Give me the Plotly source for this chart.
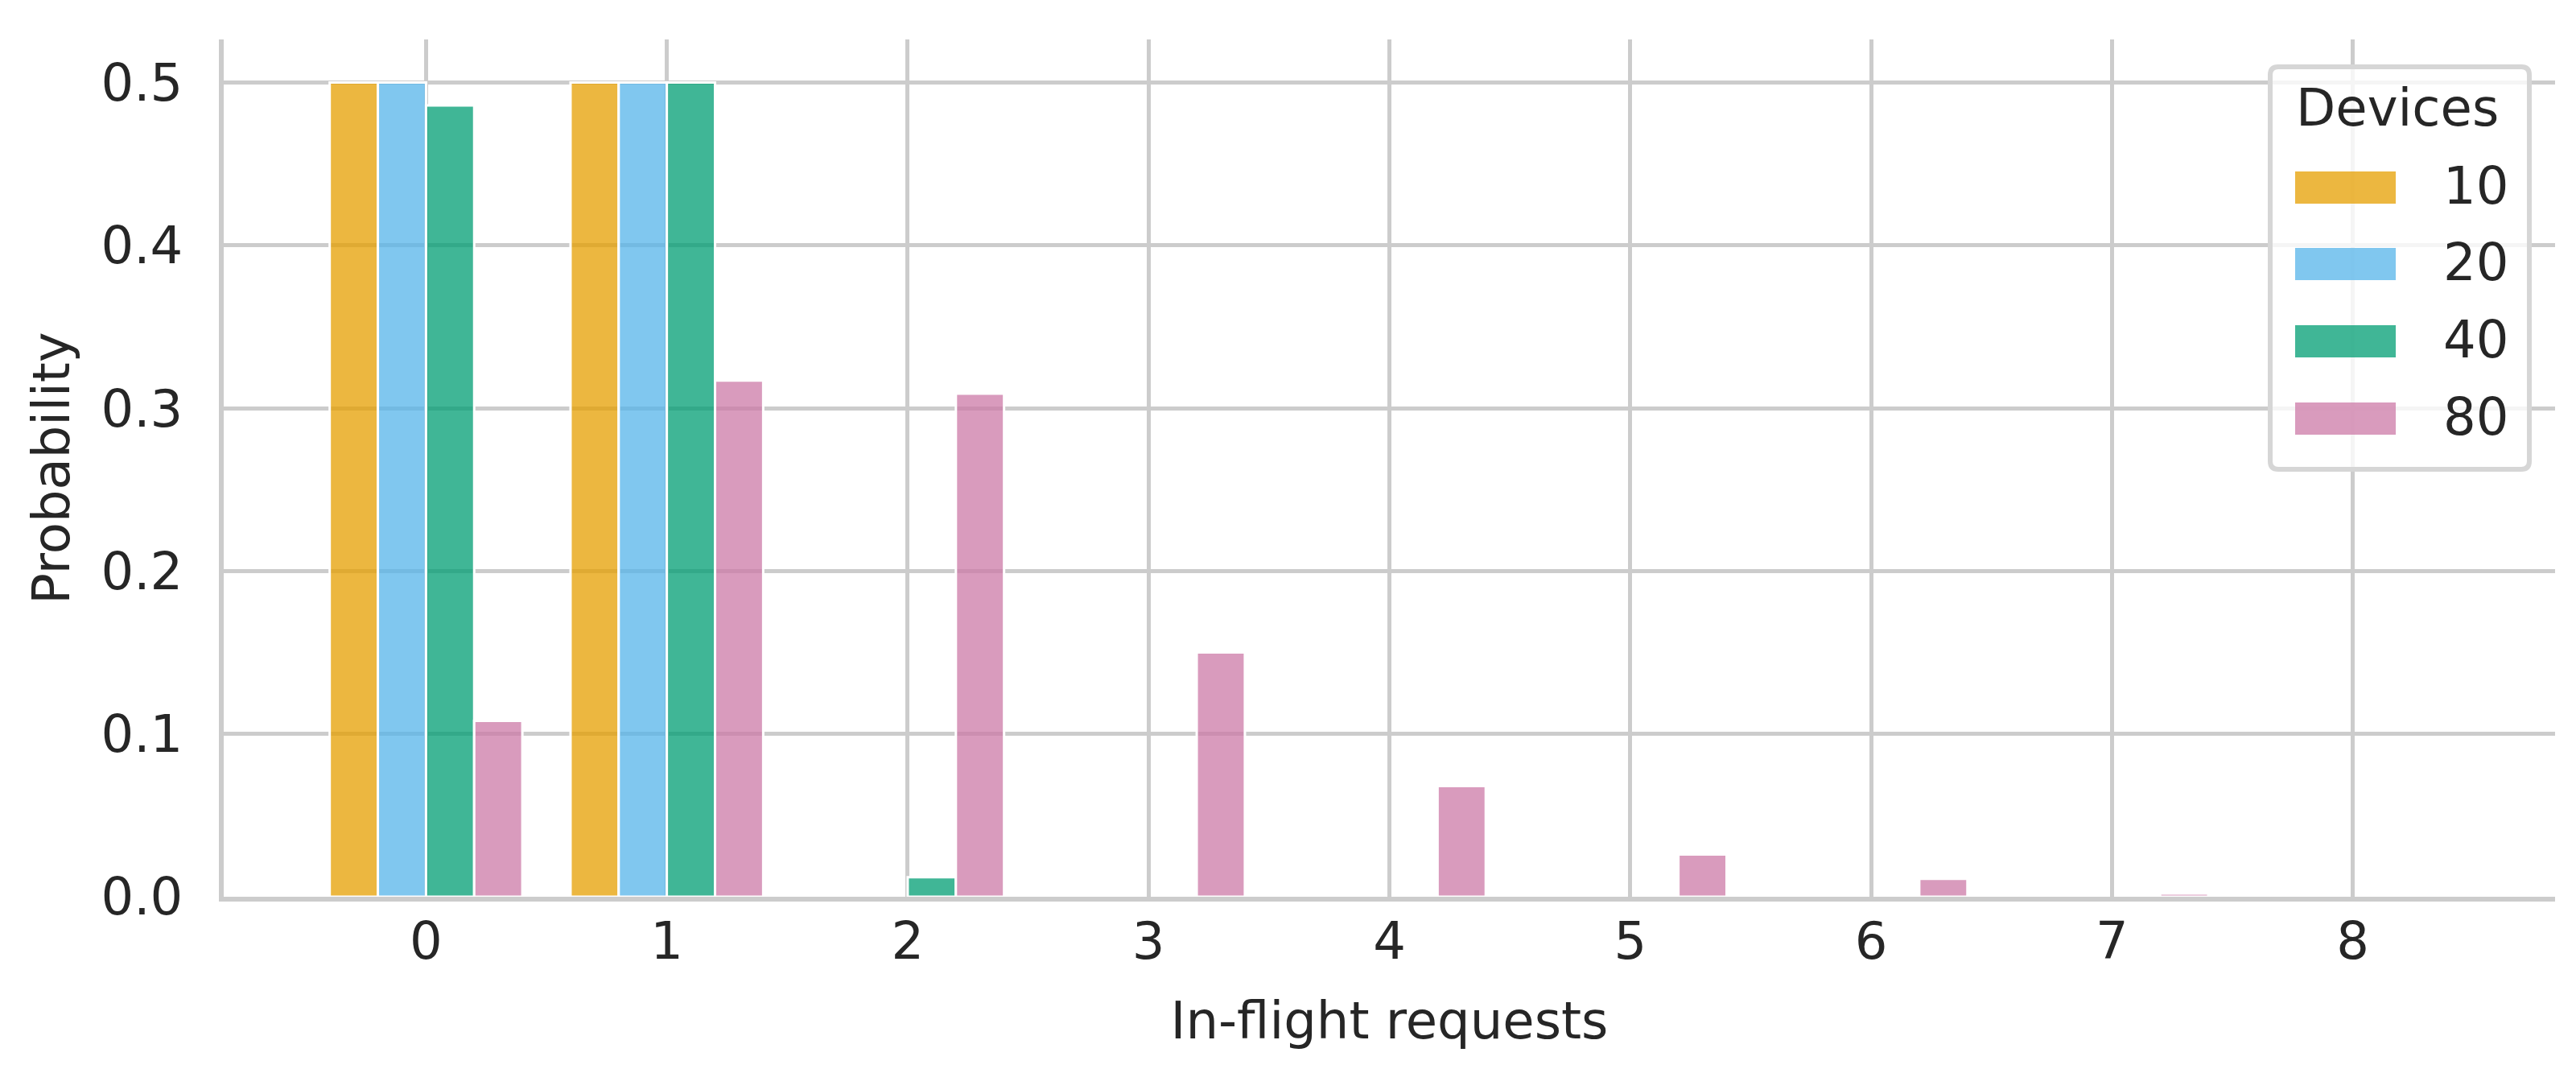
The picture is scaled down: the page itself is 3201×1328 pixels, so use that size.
import plotly.graph_objects as go

# in-flight requests (bins) and probability per device count
requests = [0, 1, 2, 3, 4, 5, 6, 7, 8]
devices = ["10", "20", "40", "80"]
prob_10 = [0.500, 0.500, 0.0, 0.0, 0.0, 0.0, 0.0, 0.0, 0.0]
prob_20 = [0.500, 0.500, 0.0, 0.0, 0.0, 0.0, 0.0, 0.0, 0.0]
prob_40 = [0.486, 0.500, 0.012, 0.0, 0.0, 0.0, 0.0, 0.0, 0.0]
prob_80 = [0.108, 0.317, 0.309, 0.150, 0.068, 0.026, 0.011, 0.002, 0.0005]
y_ticks = [0.0, 0.1, 0.2, 0.3, 0.4, 0.5]

COLORS = ["rgba(230,159,0,0.75)", "rgba(86,180,233,0.75)",
          "rgba(0,158,115,0.75)", "rgba(204,121,167,0.75)"]
FONT = "DejaVu Sans"
TEXT = "#262626"
GRID = "#cccccc"

W, H = 3201, 1328
L, R, T, B = 270, 3167, 41, 1106  # plot area in pixels


def px(x):
    return (x - L) / (R - L)


def py(y):
    return (B - y) / (B - T)


fig = go.Figure()
for name, vals, col in zip(devices, [prob_10, prob_20, prob_40, prob_80], COLORS):
    fig.add_trace(go.Bar(
        x=requests,
        y=[v if v > 0 else None for v in vals],
        name=name,
        marker=dict(color=col, line=dict(color="white", width=3)),
        showlegend=False,
    ))

fig.update_layout(
    width=W, height=H,
    margin=dict(l=L, r=W - R, t=T, b=H - B),
    barmode="group", bargap=0.2, bargroupgap=0,
    plot_bgcolor="white", paper_bgcolor="white",
    font=dict(family=FONT, size=64, color=TEXT),
    showlegend=False,
    xaxis=dict(
        range=[-0.84, 8.84], tickvals=requests, showgrid=True,
        gridcolor=GRID, gridwidth=5, zeroline=False,
        showline=True, linecolor=GRID, linewidth=6, ticks="",
        ticklabelstandoff=-6, layer="below traces",
        title=dict(text="In-flight requests", standoff=42,
                   font=dict(size=64, color=TEXT)),
    ),
    yaxis=dict(
        range=[0, 0.5265], tickvals=y_ticks, tickformat=".1f",
        showgrid=True, gridcolor=GRID, gridwidth=5, zeroline=False,
        showline=True, linecolor=GRID, linewidth=6, ticks="",
        ticklabelstandoff=32, layer="below traces",
        title=dict(text="Probability", standoff=20,
                   font=dict(size=64, color=TEXT)),
    ),
)

# legend drawn by hand to match the big swatches
bx0, bx1, by0, by1, rad = 2813, 3135, 75, 575, 10
path = (f"M {px(bx0 + rad)} {py(by0)} L {px(bx1 - rad)} {py(by0)} "
        f"Q {px(bx1)} {py(by0)} {px(bx1)} {py(by0 + rad)} "
        f"L {px(bx1)} {py(by1 - rad)} Q {px(bx1)} {py(by1)} {px(bx1 - rad)} {py(by1)} "
        f"L {px(bx0 + rad)} {py(by1)} Q {px(bx0)} {py(by1)} {px(bx0)} {py(by1 - rad)} "
        f"L {px(bx0)} {py(by0 + rad)} Q {px(bx0)} {py(by0)} {px(bx0 + rad)} {py(by0)} Z")
fig.add_shape(type="path", path=path, xref="paper", yref="paper",
              fillcolor="rgba(255,255,255,0.8)", line=dict(color="#d6d6d6", width=6))
fig.add_annotation(x=px(2971), y=py(126), xref="paper", yref="paper",
                   text="Devices", showarrow=False, xanchor="center", yanchor="middle",
                   font=dict(size=64, color=TEXT))
rows = [225, 320, 416, 512]
for name, col, ry in zip(devices, COLORS, rows):
    fig.add_shape(type="rect", xref="paper", yref="paper",
                  x0=px(2844), x1=px(2969), y0=py(ry - 20), y1=py(ry + 20),
                  fillcolor=col, line=dict(width=0))
    fig.add_annotation(x=px(3026), y=py(ry - 2), xref="paper", yref="paper",
                       text=name, showarrow=False, xanchor="left", yanchor="middle",
                       font=dict(size=64, color=TEXT))

fig.write_html("out.html")
